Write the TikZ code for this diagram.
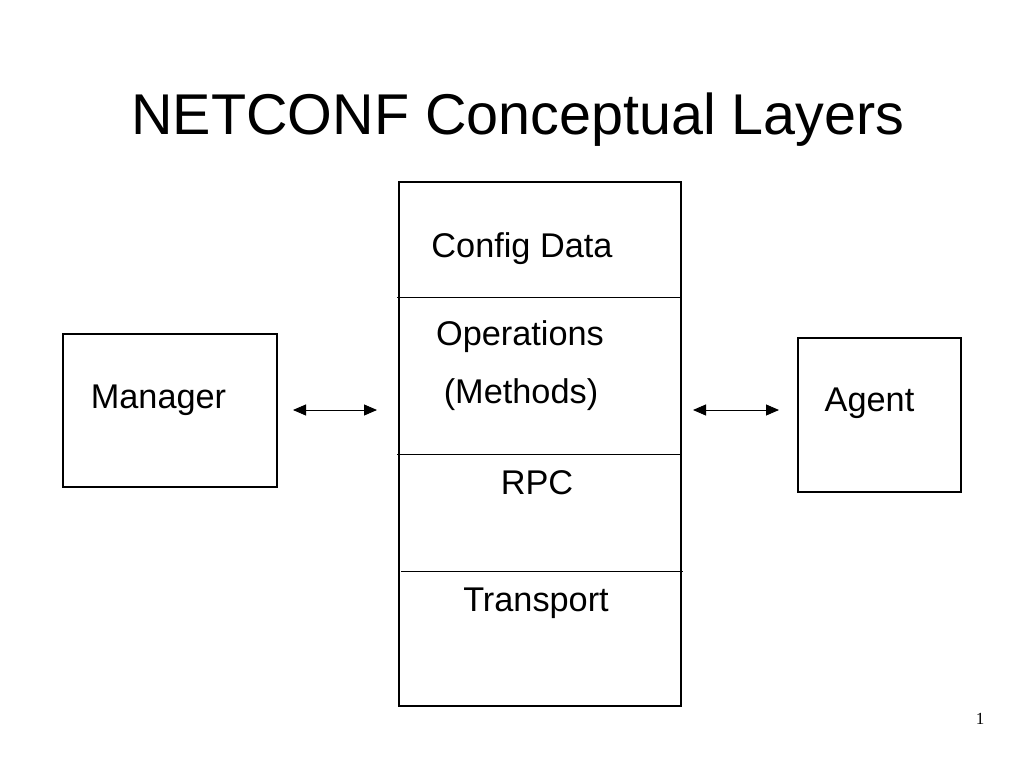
\documentclass[tikz,border=0pt]{standalone}
\usepackage{fontspec}
\setmainfont{Liberation Sans}
\newfontfamily\pgnumfont{Liberation Serif}
\usetikzlibrary{arrows.meta}
\begin{document}
\begin{tikzpicture}[x=1bp,y=-1bp,
  box/.style={draw,line width=2bp,inner sep=0pt,anchor=north west},
  divider/.style={line width=1bp},
  lbl/.style={anchor=base,inner sep=0pt,font=\fontsize{34.3bp}{40bp}\selectfont},
  biarrow/.style={line width=0.9bp,{Triangle[length=13bp,width=11bp]}-{Triangle[length=13bp,width=11bp]}}]
\useasboundingbox[fill=white] (0,0) rectangle (1036,777);
\node[anchor=base,inner sep=0pt,font=\fontsize{57.5bp}{66bp}\selectfont] (title) at (518,134) {NETCONF Conceptual Layers};
% boxes
\node[box,minimum width=214bp,minimum height=153bp] (mgr) at (62,333) {};
\node[box,minimum width=163bp,minimum height=154bp] (agt) at (797,337) {};
\node[box,minimum width=282bp,minimum height=524bp] (stack) at (398,181) {};
% dividers
\coordinate (d1l) at (397,297); \coordinate (d1r) at (680,297);
\coordinate (d2l) at (397,454); \coordinate (d2r) at (680,454);
\coordinate (d3l) at (401,571); \coordinate (d3r) at (683,571);
\draw[divider] (d1l) -- (d1r);
\draw[divider] (d2l) -- (d2r);
\draw[divider] (d3l) -- (d3r);
% labels
\node[lbl] (cfg) at (522,257) {Config Data};
\node[lbl] (ops) at (520,345) {Operations};
\node[lbl] (meth) at (521,403) {(Methods)};
\node[lbl] (rpc) at (537,494) {RPC};
\node[lbl] (trn) at (536,611) {Transport};
\node[lbl] (mgrt) at (158.5,408) {Manager};
\node[lbl] (agtt) at (869.5,411) {Agent};
% arrows
\coordinate (a1l) at (293,410); \coordinate (a1r) at (377,410);
\coordinate (a2l) at (693,410); \coordinate (a2r) at (779,410);
\draw[biarrow] (a1l) -- (a1r);
\draw[biarrow] (a2l) -- (a2r);
% page number
\node[anchor=base,inner sep=0pt,font=\pgnumfont\fontsize{17bp}{20bp}\selectfont] (pg) at (980,724) {1};
\end{tikzpicture}
\end{document}
